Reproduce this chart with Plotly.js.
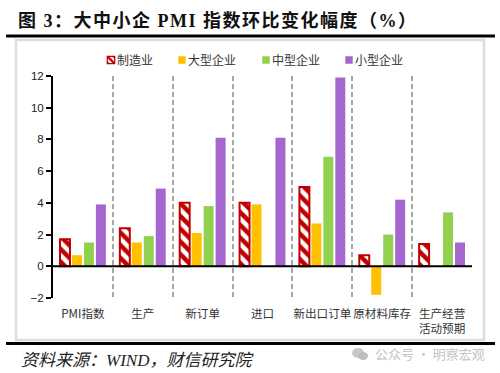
<!DOCTYPE html>
<html><head><meta charset="utf-8">
<script src="https://cdn.plot.ly/plotly-3.0.1.min.js"></script>
<style>html,body{margin:0;padding:0;background:#fff}#c{width:500px;height:373px}
.gtitle{letter-spacing:1.5px}</style></head>
<body><div id="c"></div>
<script>
var categories=['PMI指数','生产','新订单','进口','新出口订单','原材料库存','生产经营<br>活动预期'];
var manufacturing=[1.7,2.4,4.0,4.0,5.0,0.7,1.4];
var large=[0.7,1.5,2.1,3.9,2.7,-1.8,null];
var medium=[1.5,1.9,3.8,null,6.9,2.0,3.4];
var small=[3.9,4.9,8.1,8.1,11.9,4.2,1.5];
var legendTextX=[117,188,272,355];
var W=500,H=373,L=53,R=28,T=76,B=75;
function px(x){return (x-L)/(W-L-R);}
function py(y){return 1-(y-T)/(H-T-B);}
var cjk='"Noto Sans CJK SC","Noto Sans",sans-serif';
var traces=[
 {type:'bar',name:'制造业',x:categories,y:manufacturing,
  marker:{color:'#fff',line:{color:'#C00000',width:2},pattern:{shape:'\\',fgcolor:'#C00000',bgcolor:'#fff',size:9,solidity:0.5}}},
 {type:'bar',name:'大型企业',x:categories,y:large,marker:{color:'#FFC000'}},
 {type:'bar',name:'中型企业',x:categories,y:medium,marker:{color:'#92D050'}},
 {type:'bar',name:'小型企业',x:categories,y:small,marker:{color:'#A566CF'}}
];
var layout={
 width:W,height:H,margin:{l:L,r:R,t:T,b:B},paper_bgcolor:'#fff',plot_bgcolor:'rgba(0,0,0,0)',
 barmode:'group',bargap:0.2,bargroupgap:0.167,
 font:{family:cjk,size:11,color:'#333'},
 title:{text:'图 3\uFF1A大中小企 PMI 指数环比变化幅度\uFF08%\uFF09',x:18/W,xanchor:'left',y:1-21/H,yanchor:'middle',
  font:{family:'"Liberation Serif","Noto Sans CJK SC",serif',size:18,color:'#111',weight:'bold'}},
 xaxis:{type:'category',range:[-0.5,6.5],tickson:'boundaries',showgrid:true,gridcolor:'#A6A6A6',griddash:'5px,3px',gridwidth:2,
  showline:false,ticks:'',zeroline:false,tickangle:0,tickfont:{size:11.6,family:cjk,color:'#333'},automargin:false,ticklabelstandoff:7},
 yaxis:{range:[-2,12],dtick:2,showgrid:false,zeroline:false,showline:true,linecolor:'#000',linewidth:2,
  ticks:'outside',ticklen:5,tickwidth:2,tickcolor:'#000',tickfont:{size:11.5,family:'"Liberation Sans",sans-serif',color:'#222'},automargin:false},
 legend:{orientation:'h',x:px(80),xanchor:'left',y:py(60),yanchor:'middle',font:{size:12,family:cjk,color:'#333'},itemwidth:30,bgcolor:'rgba(0,0,0,0)',traceorder:'normal'},
 shapes:[
  {type:'rect',xref:'paper',yref:'paper',x0:px(16),x1:px(484),y0:py(340),y1:py(40),line:{color:'#DDDDDD',width:2.5},fillcolor:'rgba(0,0,0,0)',layer:'below'},
  {type:'line',xref:'paper',yref:'paper',x0:px(6),x1:px(495),y0:py(36),y1:py(36),line:{color:'#000',width:3}},
  {type:'line',xref:'paper',yref:'paper',x0:px(6),x1:px(495),y0:py(343.5),y1:py(343.5),line:{color:'#000',width:3}},
  {type:'line',xref:'paper',yref:'y',x0:0,x1:1,y0:0,y1:0,line:{color:'#000',width:2}},
  {type:'circle',xref:'paper',yref:'paper',x0:px(352),x1:px(364),y0:py(358),y1:py(348),fillcolor:'#C8C8C8',line:{width:0}},
  {type:'circle',xref:'paper',yref:'paper',x0:px(358),x1:px(368),y0:py(360),y1:py(352),fillcolor:'#BDBDBD',line:{width:0}}
 ],
 annotations:[
  {xref:'paper',yref:'paper',x:px(19),y:py(360),xanchor:'left',yanchor:'middle',showarrow:false,text:'<i>资料来源\uFF1AWIND\uFF0C财信研究院</i>',
   font:{family:'"Liberation Serif","Noto Sans CJK SC",serif',size:17,color:'#222'}},
  {xref:'paper',yref:'paper',x:px(373),y:py(353),xanchor:'left',yanchor:'middle',showarrow:false,text:'公众号 · 明察宏观',
   font:{family:cjk,size:13,color:'#C4C4C4'}}
 ]
};
Plotly.newPlot('c',traces,layout,{displayModeBar:false,responsive:false}).then(function(){
 var items=document.querySelectorAll('#c .legend .traces');
 items.forEach(function(g,i){
  var t=g.querySelector('.legendtext');
  var dx=legendTextX[i]-t.getBoundingClientRect().left;
  var tr=g.getAttribute('transform')||'';
  g.setAttribute('transform',tr+' translate('+dx+',0)');
  var sym=g.querySelector('.legendsymbols');
  var b=sym.getBBox();
  var cx=b.x+b.width/2,cy=b.y+b.height/2;
  var left=t.getBoundingClientRect().left;
  var cur=sym.getBoundingClientRect();
  var shift=(left-6)-(cur.left+cur.width/2);
  sym.setAttribute('transform','translate('+(cx+shift)+','+cy+') scale(0.62) translate('+(-cx)+','+(-cy)+')');
 });
});
</script></body></html>
